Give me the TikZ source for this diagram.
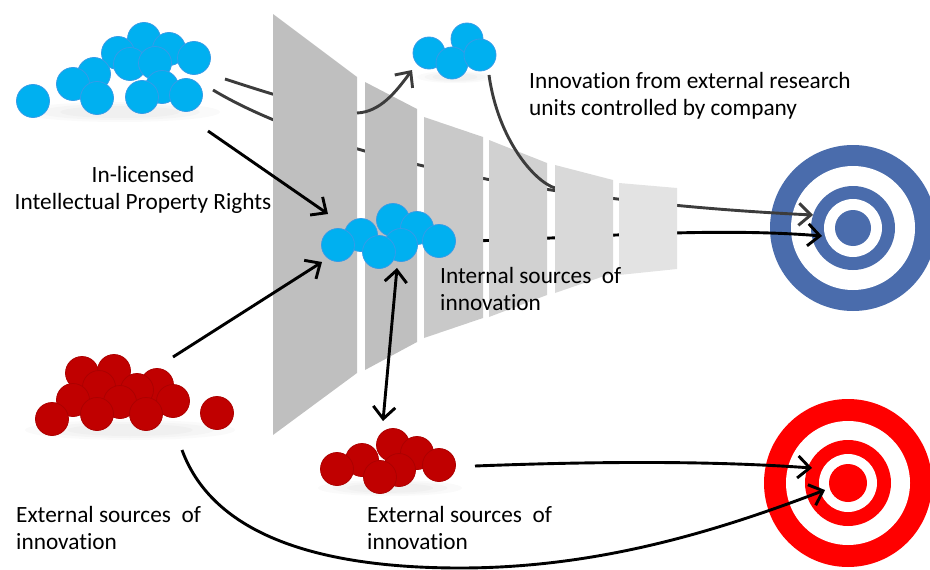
\documentclass[tikz,border=0pt]{standalone}
\usepackage{fontspec}
\setmainfont{Carlito}[Ligatures=NoCommon]
\usetikzlibrary{arrows.meta}

\definecolor{ballblue}{RGB}{0,176,240}
\definecolor{ballblueedge}{RGB}{52,156,232}
\definecolor{ballred}{RGB}{192,0,0}
\definecolor{ballrededge}{RGB}{172,0,0}
\definecolor{tgtblue}{RGB}{74,108,172}
\definecolor{tgtred}{RGB}{255,0,0}
\definecolor{flowgray}{RGB}{60,60,60}

\tikzset{
  bb/.style={fill=ballblue, draw=ballblueedge, line width=0.8pt},
  rb/.style={fill=ballred, draw=ballrededge, line width=0.8pt},
  barb/.tip={Straight Barb[length=12pt,width=22pt]},
  tip/.style={-barb},
  conn/.style={line width=2.9pt, black, tip},
  flow/.style={line width=2.9pt, flowgray},
  lbl/.style={font=\fontsize{23.3}{27}\selectfont, inner sep=0pt, text=black},
  shadowfill/.style={fill=black, opacity=0.02},
}

\begin{document}
\begin{tikzpicture}[x=1pt,y=-1pt]
\useasboundingbox (0,0) rectangle (930,570);

% ---------- connector end points ----------
\coordinate (ipStart)   at (225,79);
\coordinate (ipOut)     at (357,113);
\coordinate (extUnits)  at (412,70);
\coordinate (flowStart) at (213,90);
\coordinate (hitBlueA)  at (813,215);
\coordinate (unitsOut)  at (489,75);
\coordinate (unitsJoin) at (555,188);
\coordinate (intOut)    at (462,241);
\coordinate (hitBlueB)  at (822,236);
\coordinate (licStart)  at (208,131);
\coordinate (intIn)     at (328,214);
\coordinate (extTop)    at (173,357);
\coordinate (intInB)    at (322,262);
\coordinate (intLow)    at (397,268);
\coordinate (extLowTop) at (383,421);
\coordinate (extLowOut) at (475,466);
\coordinate (hitRedA)   at (812,468);
\coordinate (extOut)    at (182,450);
\coordinate (bottomPt)  at (460,568);
\coordinate (hitRedB)   at (825,490);

% ---------- targets ----------
\coordinate (targetBlue) at (853,228);
\fill[tgtblue] (targetBlue) circle (83pt);
\fill[white]   (targetBlue) circle (62pt);
\fill[tgtblue] (targetBlue) circle (42pt);
\fill[white]   (targetBlue) circle (29pt);
\fill[tgtblue] (targetBlue) circle (18pt);

\coordinate (targetRed) at (848,483);
\fill[tgtred] (targetRed) circle (84pt);
\fill[white]  (targetRed) circle (62pt);
\fill[tgtred] (targetRed) circle (43pt);
\fill[white]  (targetRed) circle (29pt);
\fill[tgtred] (targetRed) circle (19pt);

% ---------- flows running behind the funnel ----------
\draw[flow] (ipStart) .. controls (265,92) and (320,110) .. (ipOut);
\draw[flow, tip] (flowStart) .. controls (330,160) and (560,203) .. (hitBlueA);
\draw[line width=2.9pt, black, tip] (intOut) .. controls (560,240) and (700,226) .. (hitBlueB);

% ---------- funnel stages ----------
\fill[black!25] (273,14) -- (357,77) -- (357,373) -- (273,435) -- cycle;
\fill[black!25] (365,82) -- (417,109) -- (417,342) -- (365,370) -- cycle;
\fill[black!21] (424,117) -- (483,137) -- (483,318) -- (424,338) -- cycle;
\fill[black!18] (489,140) -- (547,163) -- (547,295) -- (489,317) -- cycle;
\draw[flow] (unitsOut) .. controls (498,140) and (535,182) .. (unitsJoin);
\fill[black!15] (555,165) -- (613,180) -- (613,273) -- (555,293) -- cycle;
\fill[black!11] (619,183) -- (677,188) -- (677,269) -- (619,275) -- cycle;

% branch to the controlled research units
\draw[flow, tip] (ipOut) .. controls (380,112) and (396,92) .. (extUnits);

% ---------- soft shadows under the ball groups ----------
\foreach \s in {1,0.8,0.6} {
  \fill[shadowfill] (120,112) ellipse [x radius=100*\s pt, y radius=10*\s pt];
  \fill[shadowfill] (455,77)  ellipse [x radius=38*\s pt,  y radius=6*\s pt];
  \fill[shadowfill] (130,430) ellipse [x radius=105*\s pt, y radius=10*\s pt];
  \fill[shadowfill] (390,488) ellipse [x radius=72*\s pt,  y radius=8*\s pt];
}

% ---------- ball groups ----------
% in-licensed rights
\foreach \x/\y in {144/39,169/49,118/53,194/58,130/64,155/63,94/74,73/84,162/87,97/98,142/97,186/95,33/101}
  \filldraw[bb] (\x,\y) circle (16.5pt);
% controlled research units
\foreach \x/\y in {467/39,429/53,452/63,480/55}
  \filldraw[bb] (\x,\y) circle (16pt);
% internal sources
\foreach \x/\y in {393/220,417/228,361/235,338/245,439/241,401/245,379/252}
  \filldraw[bb] (\x,\y) circle (16.5pt);
% external sources (left)
\foreach \x/\y in {82/373,114/371,99/387,157/385,137/390,73/400,120/402,173/401,97/414,146/414,52/419,217/413}
  \filldraw[rb] (\x,\y) circle (16.5pt);
% external sources (lower)
\foreach \x/\y in {393/445,417/453,362/460,439/465,337/469,399/470,380/477}
  \filldraw[rb] (\x,\y) circle (16.5pt);

% ---------- connectors ----------
\draw[conn] (licStart) -- (intIn);
\draw[conn] (extTop) -- (intInB);
\draw[line width=2.9pt, black, barb-barb] (intLow) -- (extLowTop);
\draw[conn] (extLowOut) .. controls (580,462) and (700,460) .. (hitRedA);
\draw[conn] (extOut) .. controls (215,540) and (330,568) .. (bottomPt) .. controls (600,568) and (720,530) .. (hitRedB);

% ---------- labels ----------
\node[lbl, align=left, anchor=west] (lblUnits) at (529,96)
  {Innovation from external research\\units controlled by company};
\node[lbl, align=center, anchor=center] (lblRights) at (143,190)
  {In-licensed\\Intellectual Property Rights};
\node[lbl, align=left, anchor=west] (lblInternal) at (440,289)
  {Internal sources\ \ of\\innovation};
\node[lbl, align=left, anchor=west] (lblExtLeft) at (16,528)
  {External sources\ \ of\\innovation};
\node[lbl, align=left, anchor=west] (lblExtLow) at (367,528)
  {External sources\ \ of\\innovation};
\end{tikzpicture}
\end{document}
